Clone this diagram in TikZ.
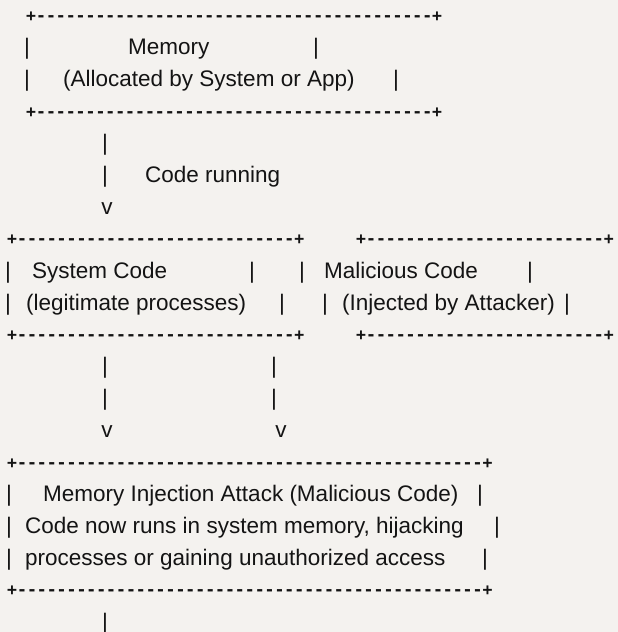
\documentclass[tikz,border=0pt]{standalone}
\usepackage{fontspec}
\setmainfont{Liberation Sans}
\setmonofont{DejaVu Sans Mono}
\usetikzlibrary{positioning}
\definecolor{paper}{HTML}{F4F2EF}
\definecolor{ink}{HTML}{141414}
% the box edges are typed, not drawn: a plus, a run of hyphens, a plus
\newcommand{\edgefont}{\ttfamily\bfseries\fontsize{16.45}{19}\selectfont}
\newcommand{\asciiedge}[1]{+\foreach\k in {1,...,#1}{-}+}

\begin{document}
\begin{tikzpicture}[x=1pt,y=-1pt,font=\fontsize{22.5}{27}\selectfont,
    txt/.style={anchor=base west,inner sep=0pt,text=ink},
    glyph/.style={anchor=base,inner sep=0pt,text=ink},
    edge/.style={anchor=base west,inner sep=0pt,text=ink,font=\edgefont}]
    \fill[paper] (0,0) rectangle (618,632);
    \useasboundingbox (0,0) rectangle (618,632);

    % memory box, rows 0-3
    \node[edge] (memtop) at (26,21.5) {\asciiedge{40}};
    \node[txt] (memtxt) at (128,54.9) {Memory};
    \node[txt] (memsub) at (63,86.8) {(Allocated by System or App)};
    \node[edge] (membot) at (26,117.2) {\asciiedge{40}};
    \foreach \n/\x/\y in {memla/27/54.9, memra/316/54.9, memlb/27/86.8, memrb/396/86.8}{
      \node[glyph] (\n) at (\x,\y) {|};}

    % the first drop, rows 4-6
    \node[glyph] (runa) at (105,150.6) {|};
    \node[glyph] (runb) at (105,182.5) {|};
    \node[txt] (runlbl) at (145,182.5) {Code running};
    \node[glyph] (runv) at (107,214.4) {v};

    % the two side by side boxes, rows 7-10
    \node[edge] (systop) at (7,244.8) {\asciiedge{28}};
    \node[edge] (maltop) at (356,244.8) {\asciiedge{24}};
    \node[txt] (systxt) at (32,278.2) {System Code};
    \node[txt] (maltxt) at (324,278.2) {Malicious Code};
    \node[txt] (syssub) at (26,310.1) {(legitimate processes)};
    \node[txt] (malsub) at (342,310.1) {(Injected by Attacker)};
    \node[edge] (sysbot) at (7,340.5) {\asciiedge{28}};
    \node[edge] (malbot) at (356,340.5) {\asciiedge{24}};
    \foreach \n/\x/\y in {sysla/8/278.2, sysra/252/278.2, malla/302/278.2, malra/530/278.2,
                          syslb/8/310.1, sysrb/282/310.1, mallb/325/310.1, malrb/567/310.1}{
      \node[glyph] (\n) at (\x,\y) {|};}

    % both drops into the attack box, rows 11-13
    \foreach \n/\x/\y in {sysdropa/105/373.9, maldropa/274/373.9,
                          sysdropb/105/405.8, maldropb/274/405.8}{
      \node[glyph] (\n) at (\x,\y) {|};}
    \node[glyph] (sysv) at (107,437.7) {v};
    \node[glyph] (malv) at (281,437.7) {v};

    % attack box, rows 14-18, and the tail cut by the frame
    \node[edge] (atktop) at (7,468.1) {\asciiedge{47}};
    \node[txt] (atktxt) at (43,501.5) {Memory Injection Attack (Malicious Code)};
    \node[txt] (atksuba) at (25,533.4) {Code now runs in system memory, hijacking};
    \node[txt] (atksubb) at (25,565.3) {processes or gaining unauthorized access};
    \node[edge] (atkbot) at (7,595.7) {\asciiedge{47}};
    \foreach \n/\x/\y in {atkla/9/501.5, atkra/480/501.5, atklb/9/533.4, atkrb/497/533.4,
                          atklc/9/565.3, atkrc/485/565.3, tail/105/629.1}{
      \node[glyph] (\n) at (\x,\y) {|};}
\end{tikzpicture}
\end{document}
